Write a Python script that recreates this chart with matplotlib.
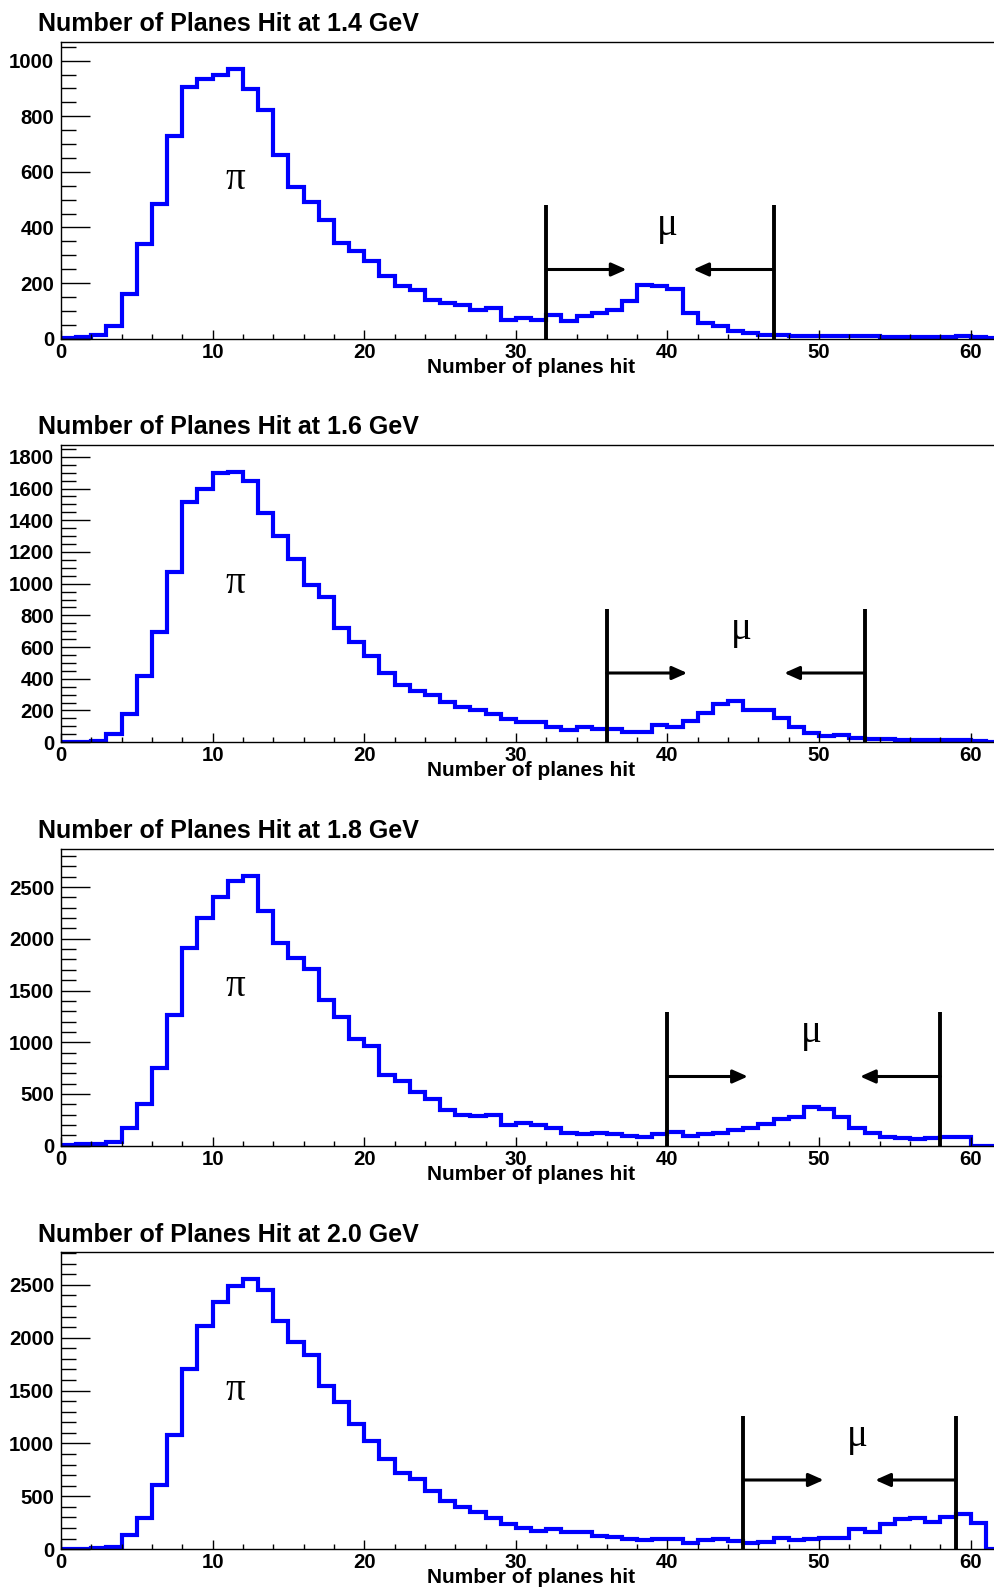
import numpy as np
import matplotlib
matplotlib.use("Agg")
import matplotlib.pyplot as plt
from matplotlib.ticker import MultipleLocator
from matplotlib.transforms import blended_transform_factory

plt.rcParams['font.family'] = ['Liberation Sans', 'DejaVu Sans']
plt.rcParams['font.weight'] = 'bold'

# bin edges: one bin per plane count, 0..62
edges = np.arange(0, 63)

energies = ['1.4', '1.6', '1.8', '2.0']

hits_14 = [4, 6, 15, 45, 162, 339, 483, 728, 904, 934,
           950, 971, 899, 824, 662, 546, 491, 426, 345, 315,
           279, 225, 189, 175, 139, 129, 120, 105, 111, 69,
           75, 67, 84, 63, 81, 93, 105, 135, 192, 189,
           180, 93, 57, 45, 28, 19, 13, 12, 10, 10,
           10, 9, 8, 8, 7, 6, 7, 7, 7, 8,
           7, 4]
hits_16 = [4, 4, 10, 50, 177, 415, 693, 1072, 1514, 1598,
           1699, 1703, 1646, 1446, 1303, 1156, 994, 916, 718, 632,
           541, 436, 358, 326, 299, 251, 221, 204, 176, 145,
           130, 126, 99, 74, 99, 82, 82, 63, 63, 109,
           99, 135, 187, 242, 263, 200, 200, 152, 95, 61,
           40, 46, 29, 23, 23, 15, 15, 14, 13, 12,
           10, 3]
hits_18 = [6, 13, 19, 32, 174, 403, 747, 1263, 1914, 2204,
           2403, 2558, 2610, 2268, 1962, 1817, 1707, 1405, 1247, 1028,
           966, 683, 625, 515, 451, 348, 296, 287, 296, 200,
           222, 200, 168, 126, 113, 126, 113, 93, 81, 110,
           129, 93, 110, 126, 151, 174, 209, 255, 274, 370,
           351, 274, 168, 119, 87, 71, 61, 71, 87, 81,
           0, 0]
hits_20 = [3, 3, 16, 22, 132, 293, 605, 1081, 1702, 2112,
           2342, 2490, 2554, 2450, 2160, 1964, 1838, 1545, 1397, 1182,
           1025, 851, 719, 668, 552, 457, 400, 352, 293, 243,
           199, 173, 195, 158, 164, 126, 120, 101, 85, 101,
           95, 63, 85, 101, 73, 63, 69, 104, 88, 95,
           110, 110, 189, 167, 236, 284, 293, 259, 306, 331,
           252, 0]

# muon selection window (lower cut, upper cut)
cut_lo = [32, 36, 40, 45]
cut_hi = [47, 53, 58, 59]

# y tick spacing per panel (major, minor)
y_major = [200, 200, 500, 500]
y_minor = [50, 50, 100, 100]

# label x positions
mu_x = [40.0, 44.9, 49.5, 52.5]
pi_x = 11.5

all_hits = [hits_14, hits_16, hits_18, hits_20]

W, H = 995, 1587
fig = plt.figure(figsize=(W / 100, H / 100), dpi=100)

left_px = 61
ax_h = 297
for i in range(4):
    top_px = 41.7 + 403.5 * i
    ax = fig.add_axes([left_px / W, 1 - (top_px + ax_h) / H, 1 - left_px / W, ax_h / H])
    vals = np.array(all_hits[i])
    ymax = 1.1 * vals.max()

    ax.stairs(vals, edges, baseline=None, color=(0, 0, 1), lw=3.0)

    ax.set_xlim(0, 61.6)
    ax.set_ylim(0, ymax)

    # cut lines with arrows pointing inward
    top = 0.45 * ymax
    ay = 0.233 * ymax
    ax.plot([cut_lo[i], cut_lo[i]], [0, top], color='k', lw=2.8, solid_capstyle='butt')
    ax.plot([cut_hi[i], cut_hi[i]], [0, top], color='k', lw=2.8, solid_capstyle='butt')
    astyle = dict(arrowstyle='-|>,head_length=0.45,head_width=0.2', color='k', lw=2.2,
                  shrinkA=0, shrinkB=0, mutation_scale=20)
    ax.annotate('', xy=(cut_lo[i] + 5.3, ay), xytext=(cut_lo[i], ay), arrowprops=astyle)
    ax.annotate('', xy=(cut_hi[i] - 5.3, ay), xytext=(cut_hi[i], ay), arrowprops=astyle)

    ax.text(mu_x[i], 0.38 * ymax, '\u03bc', ha='center', va='center', fontsize=28,
            family=['Liberation Serif', 'DejaVu Serif'], fontweight='normal')
    ax.text(pi_x, 0.535 * ymax, '\u03c0', ha='center', va='center', fontsize=28,
            family=['Liberation Serif', 'DejaVu Serif'], fontweight='normal')

    ax.xaxis.set_major_locator(MultipleLocator(10))
    ax.xaxis.set_minor_locator(MultipleLocator(2))
    ax.yaxis.set_major_locator(MultipleLocator(y_major[i]))
    ax.yaxis.set_minor_locator(MultipleLocator(y_minor[i]))
    ax.tick_params(which='both', direction='in', top=False, right=False, width=1.0)
    ax.tick_params(axis='y', which='major', length=20.9, pad=5, labelsize=14.7)
    ax.tick_params(axis='y', which='minor', length=10.8)
    ax.tick_params(axis='x', which='major', length=6.5, pad=3, labelsize=14.7)
    ax.tick_params(axis='x', which='minor', length=3.6)
    ax.spines['right'].set_visible(False)
    for s in ['left', 'top', 'bottom']:
        ax.spines[s].set_linewidth(1.0)

    trans = blended_transform_factory(ax.transData, ax.transAxes)
    ax.text(31, -34 / ax_h, 'Number of planes hit', transform=trans,
            ha='center', va='baseline', fontsize=15, fontweight='bold')

    fig.text(38 / W, 1 - (top_px - 10.7) / H, 'Number of Planes Hit at %s GeV' % energies[i],
             ha='left', va='baseline', fontsize=18, fontweight='bold')

fig.savefig('out.png', dpi=100)
